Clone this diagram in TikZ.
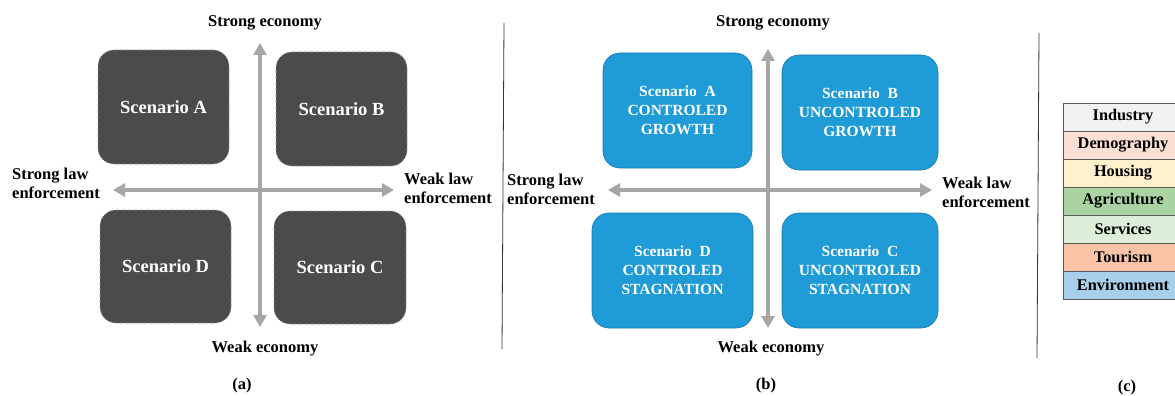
\documentclass[tikz,border=0pt]{standalone}
\usepackage{fontspec}
\setmainfont{Liberation Serif}
\usetikzlibrary{arrows.meta}
\definecolor{boxgray}{HTML}{4B4B4D}
\definecolor{boxgrayline}{HTML}{9A9AA2}
\definecolor{boxblue}{HTML}{1F9BD7}
\definecolor{boxblueline}{HTML}{1A78B4}
\definecolor{axisgray}{HTML}{A6A6A6}
\definecolor{rowline}{HTML}{5A5A5A}
\definecolor{industryc}{HTML}{F2F2F2}
\definecolor{demographyc}{HTML}{FCE0D6}
\definecolor{housingc}{HTML}{FFF1CC}
\definecolor{agriculturec}{HTML}{A9D4A1}
\definecolor{servicesc}{HTML}{DDEFD9}
\definecolor{tourismc}{HTML}{FBC4A6}
\definecolor{environmentc}{HTML}{A8CFEB}
\tikzset{
  axislabel/.style={font=\bfseries\fontsize{16.5}{19}\selectfont,align=left,inner sep=0pt},
  caption/.style={font=\bfseries\fontsize{16.5}{19}\selectfont,inner sep=0pt},
  graybox/.style={fill=boxgray,draw=boxgrayline,dashed,line width=0.6pt,rounded corners=16pt,
    text=white,font=\bfseries\fontsize{18.5}{21}\selectfont,inner sep=0pt},
  bluebox/.style={fill=boxblue,draw=boxblueline,line width=0.6pt,rounded corners=17pt,
    text=white,font=\bfseries\fontsize{15.5}{19}\selectfont,align=center,inner sep=0pt},
  axisarrow/.style={draw=axisgray,line width=4.5pt,
    {Triangle[length=12pt,width=13pt]}-{Triangle[length=12pt,width=13pt]}},
  divider/.style={draw=black!80,line width=0.8pt},
  tablerow/.style={draw=rowline,line width=0.9pt,minimum width=120pt,minimum height=28pt,
    inner sep=0pt,font=\bfseries\fontsize{16.3}{19}\selectfont}
}
\begin{document}
\begin{tikzpicture}[x=1pt,y=-1pt]
\clip (0,0) rectangle (1175,396);
\fill[white] (0,0) rectangle (1175,396);

% (a) scenario boxes
\node[graybox,minimum width=131pt,minimum height=114pt] (aA) at (163.5,107) {Scenario A};
\node[graybox,minimum width=131pt,minimum height=114pt] (aB) at (341.5,109) {Scenario B};
\node[graybox,minimum width=131pt,minimum height=113pt] (aD) at (165.5,266.5) {Scenario D};
\node[graybox,minimum width=132pt,minimum height=113pt] (aC) at (340,267.5) {Scenario C};
% (a) axes
\coordinate (aN) at (260,43);
\coordinate (aS) at (260,327);
\coordinate (aW) at (113,190);
\coordinate (aE) at (394,190);
\draw[axisarrow] (aW) -- (aE);
\draw[axisarrow] (aS) -- (aN);
\node[axislabel] (aNlab) at (265,23) {Strong economy};
\node[axislabel] (aSlab) at (265,349) {Weak economy};
\node[axislabel,anchor=west] (aWlab) at (12,183) {Strong law\\enforcement};
\node[axislabel,anchor=west] (aElab) at (404,188) {Weak law\\enforcement};
\node[caption] (acap) at (242,386) {(a)};

% dividers
\draw[divider] (504,23) -- (502,349);
\draw[divider] (1039,33) -- (1037,358);

% (b) scenario boxes
\node[bluebox,minimum width=149pt,minimum height=115pt] (bA) at (677.5,110.5)
  {Scenario~~A\\CONTROLED\\GROWTH};
\node[bluebox,minimum width=156pt,minimum height=115pt] (bB) at (860,112.5)
  {Scenario~~B\\UNCONTROLED\\GROWTH};
\node[bluebox,minimum width=161pt,minimum height=115pt] (bD) at (672.5,270.5)
  {Scenario~~D\\CONTROLED\\STAGNATION};
\node[bluebox,minimum width=156pt,minimum height=115pt] (bC) at (860,270.5)
  {Scenario~~C\\UNCONTROLED\\STAGNATION};
% (b) axes
\coordinate (bN) at (768,49);
\coordinate (bS) at (768,328);
\coordinate (bW) at (608,190);
\coordinate (bE) at (932,190);
\draw[axisarrow] (bW) -- (bE);
\draw[axisarrow] (bS) -- (bN);
\node[axislabel] (bNlab) at (773,23) {Strong economy};
\node[axislabel] (bSlab) at (771,349) {Weak economy};
\node[axislabel,anchor=west] (bWlab) at (507,189) {Strong law\\enforcement};
\node[axislabel,anchor=west] (bElab) at (942,192) {Weak law\\enforcement};
\node[caption] (bcap) at (766,386) {(b)};

% (c) sector table
\foreach \name/\col [count=\i from 0] in {Industry/industryc,Demography/demographyc,
    Housing/housingc,Agriculture/agriculturec,Services/servicesc,Tourism/tourismc,
    Environment/environmentc}
  \node[tablerow,fill=\col] (row\i) at (1123,117+28*\i) {\name};
\node[caption] (ccap) at (1127,388) {(c)};
\end{tikzpicture}
\end{document}
